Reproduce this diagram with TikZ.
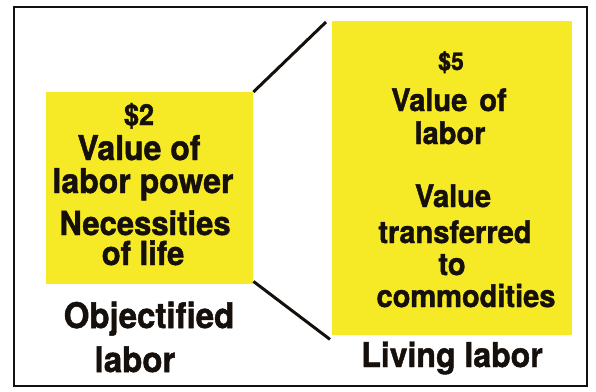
\documentclass[tikz,border=0pt]{standalone}
\usepackage{fontspec}
\setmainfont{TeX Gyre Heros}
% heavy face: Heros Bold with a little extra stroke
\newfontfamily\heavy{texgyreheros-bold.otf}[FakeBold=1.4]
\newcommand\tallset[1]{\scalebox{1}[1.07]{#1}}
\definecolor{hilite}{RGB}{246,234,38}
\definecolor{ink}{RGB}{22,16,12}
\begin{document}
\begin{tikzpicture}[x=1pt,y=-1pt,
  panel/.style={fill=hilite, draw=none, inner sep=0pt, anchor=north west},
  txt/.style={anchor=base, inner sep=0pt, text=ink, font=\heavy\fontsize{#1}{#1}\selectfont},
  link/.style={line width=3pt, draw=ink}]
\useasboundingbox (0,0) rectangle (596,391);
% outer frame
\draw[line width=2pt, draw=ink] (14,7) rectangle (587,386);

% the two highlighted panels
\node[panel, minimum width=207pt, minimum height=192pt] (lb) at (46,92) {};
\node[panel, minimum width=240pt, minimum height=314pt] (rb) at (332,21) {};

% connectors between the panels
\draw[link] (lb.north east) -- ([xshift=-6pt,yshift=-1pt]rb.north west);
\draw[link] ([yshift=3pt]lb.south east) -- ([xshift=-2pt,yshift=-4pt]rb.south west);

% left panel text
\node[txt=27] (l1) at (139,125) {\tallset{\$2}};
\node[txt=32] (l2) at (139,160) {\tallset{Value of}};
\node[txt=32] (l3) at (143,193) {\tallset{labor power}};
\node[txt=31] (l4) at (145,235) {\tallset{Necessities}};
\node[txt=31] (l5) at (143,265) {\tallset{of life}};

% right panel text
\node[txt=23] (r1) at (451,70) {\tallset{\$5}};
\node[txt=29] (r2) at (449,111) {\tallset{Value\hspace{4pt} of}};
\node[txt=29] (r3) at (450,144) {\tallset{labor}};
\node[txt=29] (r4) at (453,207) {\tallset{Value}};
\node[txt=29] (r5) at (455,243) {\tallset{transferred}};
\node[txt=29] (r6) at (452,275) {\tallset{to}};
\node[txt=29] (r7) at (466,307) {\tallset{commodities}};

% captions below the panels
\node[txt=33] (c1) at (149,328) {\tallset{Objectified}};
\node[txt=33] (c2) at (135,372) {\tallset{labor}};
\node[txt=32] (c3) at (452,367) {\tallset{Living labor}};
\end{tikzpicture}
\end{document}
